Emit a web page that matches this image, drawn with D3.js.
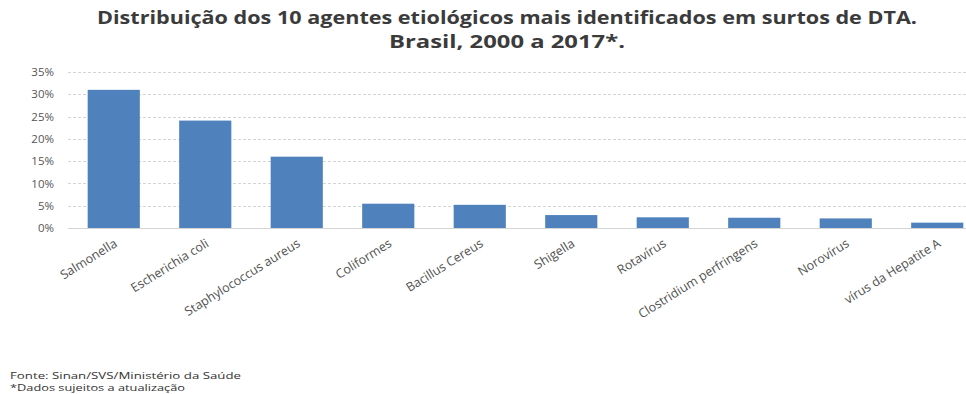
<!DOCTYPE html>
<html>
<head>
<meta charset="utf-8">
<script src="https://cdn.jsdelivr.net/npm/d3@7"></script>
<style>
  html, body { margin: 0; padding: 0; background: #fff; }
  svg { display: block; }
  text { font-family: "Open Sans", sans-serif; }
</style>
</head>
<body>
<div id="chart"></div>
<script>
// Outbreak agents and their share of identified outbreaks
const agents = [
  "Salmonella", "Escherichia coli", "Staphylococcus aureus", "Coliformes",
  "Bacillus Cereus", "Shigella", "Rotavírus", "Clostridium perfringens",
  "Norovírus", "vírus da Hepatite A"
];
const shares = [0.31, 0.241, 0.16, 0.0545, 0.052, 0.029, 0.024, 0.023, 0.0215, 0.012];
const yTicks = [0, 0.05, 0.10, 0.15, 0.20, 0.25, 0.30, 0.35];
const titleLines = [
  "Distribuição dos 10 agentes etiológicos mais identificados em surtos de DTA.",
  "Brasil, 2000 a 2017*."
];
const footnotes = [
  "Fonte: Sinan/SVS/Ministério da Saúde",
  "*Dados sujeitos a atualização"
];

const W = 966, H = 394;
const plot = { left: 68, right: 983, top: 72, bottom: 228 };

const svg = d3.select("#chart").append("svg")
  .attr("width", W).attr("height", H);

const x = d3.scaleBand()
  .domain(agents)
  .range([plot.left, plot.right])
  .paddingInner(0.43)
  .paddingOuter(0.215);

const y = d3.scaleLinear()
  .domain([0, 0.35])
  .range([plot.bottom, plot.top]);

// Title, slightly widened letterforms
const titleWidths = [820, 236];
svg.append("g").selectAll("text")
  .data(titleLines)
  .join("text")
  .attr("x", 507)
  .attr("y", (d, i) => 24 + i * 24)
  .attr("text-anchor", "middle")
  .attr("font-size", 17.5)
  .attr("font-weight", 700)
  .attr("fill", "#3b3b3b")
  .attr("textLength", (d, i) => titleWidths[i])
  .attr("lengthAdjust", "spacingAndGlyphs")
  .text(d => d);

// Dashed gridlines
svg.append("g").selectAll("line")
  .data(yTicks.filter(t => t > 0))
  .join("line")
  .attr("x1", plot.left).attr("x2", W)
  .attr("y1", d => Math.round(y(d)) + 0.5)
  .attr("y2", d => Math.round(y(d)) + 0.5)
  .attr("stroke", "#d4d4d4")
  .attr("stroke-width", 1)
  .attr("stroke-dasharray", "3,2");

// Y axis labels
const yAxis = d3.axisLeft(y)
  .tickValues(yTicks)
  .tickFormat(d3.format(".0%"))
  .tickSize(0)
  .tickPadding(0);
const gy = svg.append("g")
  .attr("transform", `translate(54,0)`)
  .call(yAxis);
gy.select(".domain").remove();
gy.selectAll("text")
  .attr("font-family", "Open Sans, sans-serif")
  .attr("font-size", 11.5)
  .attr("fill", "#555555");

// Bars
svg.append("g").selectAll("rect")
  .data(agents.map((a, i) => ({ a, v: shares[i] })))
  .join("rect")
  .attr("x", d => x(d.a))
  .attr("width", x.bandwidth())
  .attr("y", d => y(d.v))
  .attr("height", d => y(0) - y(d.v))
  .attr("fill", "#4f81bd");

// Baseline
svg.append("line")
  .attr("x1", plot.left).attr("x2", W)
  .attr("y1", plot.bottom + 0.5).attr("y2", plot.bottom + 0.5)
  .attr("stroke", "#d4d4d4");

// Category labels, rotated
const xAxis = d3.axisBottom(x).tickSize(0).tickPadding(0);
const gx = svg.append("g")
  .attr("transform", `translate(0,${plot.bottom})`)
  .call(xAxis);
gx.select(".domain").remove();
gx.selectAll("text")
  .attr("font-family", "Open Sans, sans-serif")
  .attr("font-size", 12.5)
  .attr("fill", "#505050")
  .attr("text-anchor", "end")
  .attr("dy", "0.35em")
  .attr("transform", "translate(2,14) rotate(-32)");

// Footnotes
const footWidths = [231, 175];
svg.append("g").selectAll("text")
  .data(footnotes)
  .join("text")
  .attr("x", 10)
  .attr("y", (d, i) => 379 + i * 11.8)
  .attr("font-size", 8.5)
  .attr("fill", "#333333")
  .attr("textLength", (d, i) => footWidths[i])
  .attr("lengthAdjust", "spacingAndGlyphs")
  .text(d => d);
</script>
</body>
</html>
